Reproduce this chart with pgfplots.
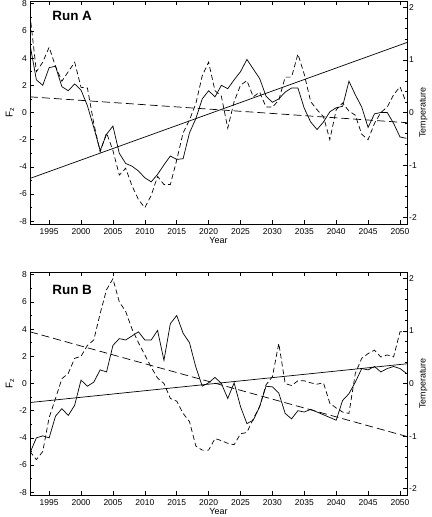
\documentclass[border=0pt]{standalone}
\usepackage{pgfplots}
\usepackage{pgfplotstable}
\pgfplotsset{compat=1.18}
\usepackage{fontspec}
\setmainfont{Liberation Sans}

% year, solid curve (F_z), dashed curve (read on the F_z scale)
\pgfplotstableread{
year solid dashed
1992  5.0   7.2
1993  2.4   3.0
1994  2.0   3.7
1995  3.3   4.8
1996  3.4   3.4
1997  1.9   2.3
1998  1.6   3.0
1999  2.1   3.7
2000  1.65  1.85
2001  0.5   1.8
2002 -1.1  -0.8
2003 -2.8  -2.9
2004 -1.6  -1.5
2005 -1.0  -2.8
2006 -3.0  -4.6
2007 -3.75 -4.1
2008 -3.95 -5.4
2009 -4.3  -6.4
2010 -4.8  -7.0
2011 -5.1  -6.1
2012 -4.55 -4.7
2013 -3.85 -5.3
2014 -3.2  -5.3
2015 -3.45 -3.5
2016 -3.4  -1.5
2017 -1.5  -0.55
2018 -0.45  0.65
2019  1.0   2.7
2020  1.6   3.7
2021  1.15  1.6
2022  2.0   1.2
2023  1.75 -1.15
2024  2.4   0.8
2025  3.0   2.0
2026  3.9   2.35
2027  3.2   1.15
2028  2.5   1.5
2029  1.2   0.4
2030  0.75  0.4
2031  1.0   0.9
2032  1.5   2.6
2033  1.8   2.6
2034  1.8   4.3
2035  0.3   2.8
2036 -0.7   0.8
2037 -1.25  0.2
2038 -0.7  -0.3
2039  0.05 -2.0
2040  0.35  0.2
2041  0.45  0.7
2042  2.3   0.1
2043  1.3  -0.2
2044  0.4  -1.6
2045 -1.1  -2.0
2046 -0.1  -0.8
2047  0.0   0.0
2048  0.0   0.4
2049 -0.8   1.3
2050 -1.8   1.9
2051 -1.9   0.7
}\runA

\pgfplotstableread{
year solid dashed
1992 -5.1  -5.0
1993 -4.0  -5.6
1994 -3.85 -5.0
1995 -4.0  -2.5
1996 -2.4  -1.1
1997 -1.85  0.35
1998 -2.35  0.75
1999 -1.6   1.85
2000  0.25  2.0
2001 -0.2   2.8
2002  0.1   3.2
2003  1.0   5.15
2004  0.85  6.9
2005  2.8   7.7
2006  3.3   6.0
2007  3.2   5.3
2008  3.5   4.0
2009  3.8   3.0
2010  3.2   2.1
2011  3.2   1.2
2012  3.9   0.4
2013  1.7   0.0
2014  4.4  -1.1
2015  5.0  -1.3
2016  3.7  -2.2
2017  3.0  -2.8
2018  1.2  -4.6
2019 -0.2  -4.9
2020  0.05 -4.9
2021  0.45 -4.05
2022  0.0  -4.2
2023 -1.1  -4.4
2024  0.05 -4.5
2025 -1.7  -3.7
2026 -2.95 -3.6
2027 -2.7  -2.6
2028 -1.7  -1.7
2029 -0.2  -0.1
2030 -0.25  0.5
2031 -0.7   2.95
2032 -2.2   0.0
2033 -2.6  -0.15
2034 -2.0   0.2
2035 -2.1   0.2
2036 -1.9   0.05
2037 -2.1  -0.05
2038 -2.3   0.05
2039 -2.5  -1.45
2040 -2.7  -1.8
2041 -1.25 -2.1
2042 -0.75 -2.2
2043  0.1   0.75
2044  1.1   1.85
2045  1.0   2.2
2046  1.25  2.45
2047  0.85  1.95
2048  1.1   2.1
2049  1.25  1.95
2050  1.1   3.8
2051  0.75  3.8
}\runB

\pgfplotsset{
  common/.style={
    scale only axis, width=377bp, height=223bp,
    xmin=1992, xmax=2051.1,
    tick align=inside,
    major tick length=4bp, minor tick length=2.5bp,
    every tick/.style={black, line width=0.5bp},
    axis line style={line width=0.6bp},
    /pgf/number format/assume math mode=true,
    /pgf/number format/1000 sep={},
    tick label style={font=\fontsize{8.5}{10}\selectfont},
  },
  fzax/.style={
    common,
    ymin=-8.2, ymax=8.2,
    xtick={1995,2000,...,2050},
    ytick={-8,-6,...,8}, minor ytick={-7,-5,...,7},
    ytick pos=left,
    xticklabel style={inner sep=0pt, anchor=north, yshift=-4bp},
    yticklabel style={inner sep=0pt, anchor=east, xshift=-3bp},
    xlabel={Year},
    xlabel style={font=\fontsize{9}{10}\selectfont, at={(axis description cs:0.5,-0.075)}, anchor=center},
    ylabel={F\textsubscript{z}},
    ylabel style={font=\fontsize{10}{11}\selectfont, at={(axis description cs:-0.053,0.5)}, anchor=center},
  },
  tax/.style={
    common,
    ymin=-2.12, ymax=2.12,
    axis x line=none,
    ytick={-2,-1,...,2}, minor tick num=4,
    ytick pos=right, yticklabel pos=right,
    yticklabel style={inner sep=0pt, anchor=west, xshift=2bp},
    ylabel={Temperature},
    ylabel style={font=\fontsize{9}{10}\selectfont, at={(axis description cs:1.044,0.5)}, anchor=center, rotate=0},
  },
  curve/.style={black, line width=0.7bp, sharp plot},
  dcurve/.style={curve, dash pattern=on 5bp off 3bp},
  trend/.style={black, line width=0.7bp},
  dtrend/.style={trend, dash pattern=on 8bp off 4bp},
}

\begin{document}
\begin{tikzpicture}
\useasboundingbox (0,0) rectangle (432bp,517bp);

% Run A
\begin{axis}[fzax, at={(30bp,293bp)}, anchor=south west]
  \addplot[curve] table[x=year, y=solid] {\runA};
  \addplot[dcurve] table[x=year, y=dashed] {\runA};
  \addplot[trend] coordinates {(1992,-4.85) (2051.1,5.15)};
  \addplot[dtrend] coordinates {(1992,1.15) (2051.1,-0.75)};
  \node[anchor=west, font=\fontsize{13.5}{14}\selectfont\bfseries]
    at (axis description cs:0.05,0.933) {Run A};
\end{axis}
\begin{axis}[tax, at={(30bp,293bp)}, anchor=south west]
\end{axis}

% Run B
\begin{axis}[fzax, at={(30bp,22bp)}, anchor=south west]
  \addplot[curve] table[x=year, y=solid] {\runB};
  \addplot[dcurve] table[x=year, y=dashed] {\runB};
  \addplot[trend] coordinates {(1992,-1.4) (2051.1,1.45)};
  \addplot[dtrend] coordinates {(1992,3.8) (2051.1,-3.9)};
  \node[anchor=west, font=\fontsize{13.5}{14}\selectfont\bfseries]
    at (axis description cs:0.05,0.919) {Run B};
\end{axis}
\begin{axis}[tax, at={(30bp,22bp)}, anchor=south west]
\end{axis}
\end{tikzpicture}
\end{document}
